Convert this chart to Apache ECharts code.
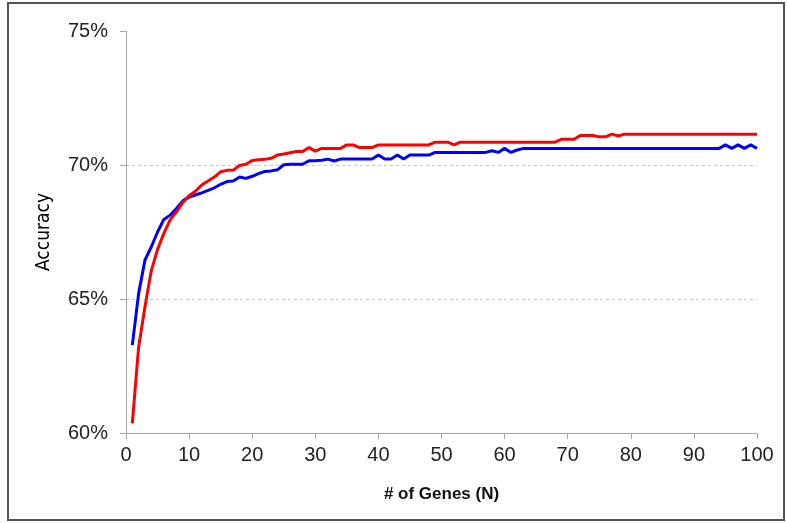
<!DOCTYPE html>
<html>
<head>
<meta charset="utf-8">
<script src="https://cdn.jsdelivr.net/npm/echarts@6/dist/echarts.min.js"></script>
<style>
html,body{margin:0;padding:0;background:#fff;}
#chart{width:787px;height:523px;}
</style>
</head>
<body>
<div id="chart"></div>
<script>
// Number of genes N (1..100)
const genes = [];
for (let n = 1; n <= 100; n++) genes.push(n);

// Accuracy (%) per N, red series
const redAccuracy = [
  60.36, 63.20, 64.70, 66.05, 66.85, 67.45, 67.95, 68.25, 68.60, 68.85,
  69.02, 69.25, 69.40, 69.55, 69.75, 69.80, 69.81, 69.98, 70.03, 70.17,
  70.20, 70.21, 70.25, 70.37, 70.41, 70.46, 70.50, 70.50, 70.65, 70.52,
  70.62, 70.62, 70.62, 70.62, 70.75, 70.75, 70.65, 70.65, 70.65, 70.75,
  70.75, 70.75, 70.75, 70.75, 70.75, 70.75, 70.75, 70.75, 70.85, 70.85,
  70.85, 70.75, 70.85, 70.85, 70.85, 70.85, 70.85, 70.85, 70.85, 70.85,
  70.85, 70.85, 70.85, 70.85, 70.85, 70.85, 70.85, 70.85, 70.96, 70.96,
  70.96, 71.10, 71.10, 71.10, 71.05, 71.05, 71.15, 71.08, 71.15, 71.15,
  71.15, 71.15, 71.15, 71.15, 71.15, 71.15, 71.15, 71.15, 71.15, 71.15,
  71.15, 71.15, 71.15, 71.15, 71.15, 71.15, 71.15, 71.15, 71.15, 71.15
];

// Accuracy (%) per N, blue series
const blueAccuracy = [
  63.28, 65.20, 66.45, 66.94, 67.50, 67.97, 68.13, 68.38, 68.66, 68.80,
  68.88, 68.96, 69.05, 69.15, 69.28, 69.38, 69.40, 69.55, 69.50, 69.58,
  69.68, 69.76, 69.78, 69.82, 70.01, 70.03, 70.03, 70.03, 70.16, 70.16,
  70.18, 70.22, 70.15, 70.22, 70.22, 70.22, 70.22, 70.22, 70.22, 70.37,
  70.22, 70.22, 70.37, 70.22, 70.37, 70.37, 70.37, 70.37, 70.47, 70.47,
  70.47, 70.47, 70.47, 70.47, 70.47, 70.47, 70.47, 70.53, 70.47, 70.62,
  70.47, 70.56, 70.62, 70.62, 70.62, 70.62, 70.62, 70.62, 70.62, 70.62,
  70.62, 70.62, 70.62, 70.62, 70.62, 70.62, 70.62, 70.62, 70.62, 70.62,
  70.62, 70.62, 70.62, 70.62, 70.62, 70.62, 70.62, 70.62, 70.62, 70.62,
  70.62, 70.62, 70.62, 70.62, 70.75, 70.62, 70.75, 70.62, 70.75, 70.62
];

const xTicks = [0, 10, 20, 30, 40, 50, 60, 70, 80, 90, 100];
const yTicks = [60, 65, 70, 75];

const pairs = (ys) => genes.map((n, i) => [n, ys[i]]);

const chart = echarts.init(document.getElementById('chart'), null, {renderer: 'canvas'});
const font = '"Liberation Sans", Arial, sans-serif';

chart.setOption({
  animation: false,
  backgroundColor: '#ffffff',
  grid: {left: 126, right: 30, top: 31, bottom: 90, containLabel: false},
  graphic: [{
    type: 'rect',
    shape: {x: 8, y: 3, width: 776, height: 517},
    style: {fill: 'none', stroke: '#555555', lineWidth: 2},
    silent: true
  }],
  xAxis: {
    type: 'value',
    min: xTicks[0],
    max: xTicks[xTicks.length - 1],
    interval: 10,
    name: '# of Genes (N)',
    nameLocation: 'middle',
    nameGap: 53,
    nameTextStyle: {fontFamily: font, fontSize: 17, fontWeight: 'bold', color: '#111'},
    axisLine: {lineStyle: {color: '#a6a6a6', width: 1}},
    axisTick: {show: true, length: 6, lineStyle: {color: '#a6a6a6'}},
    axisLabel: {fontFamily: font, fontSize: 20, color: '#222', margin: 12},
    splitLine: {show: false}
  },
  yAxis: {
    type: 'value',
    min: yTicks[0],
    max: yTicks[yTicks.length - 1],
    interval: 5,
    name: 'Accuracy',
    nameLocation: 'middle',
    nameRotate: 90,
    nameGap: 72,
    nameTextStyle: {fontFamily: '"DejaVu Sans Condensed", "Liberation Sans Narrow", "Liberation Sans", sans-serif', fontSize: 19, fontWeight: 500, color: '#000'},
    axisLine: {show: true, lineStyle: {color: '#a6a6a6', width: 1}},
    axisTick: {show: true, length: 6, lineStyle: {color: '#a6a6a6'}},
    axisLabel: {fontFamily: font, fontSize: 20, color: '#222', margin: 18, formatter: '{value}%'},
    splitLine: {
      show: true,
      lineStyle: {color: ['rgba(0,0,0,0)', '#c8c8c8', '#c8c8c8', 'rgba(0,0,0,0)'], type: [3, 3], width: 1}
    }
  },
  series: [
    {
      type: 'line',
      data: pairs(blueAccuracy),
      showSymbol: false,
      lineStyle: {color: '#0000ff', width: 3},
      z: 2
    },
    {
      type: 'line',
      data: pairs(redAccuracy),
      showSymbol: false,
      lineStyle: {color: '#ff0000', width: 3},
      z: 3
    }
  ]
});
</script>
</body>
</html>
